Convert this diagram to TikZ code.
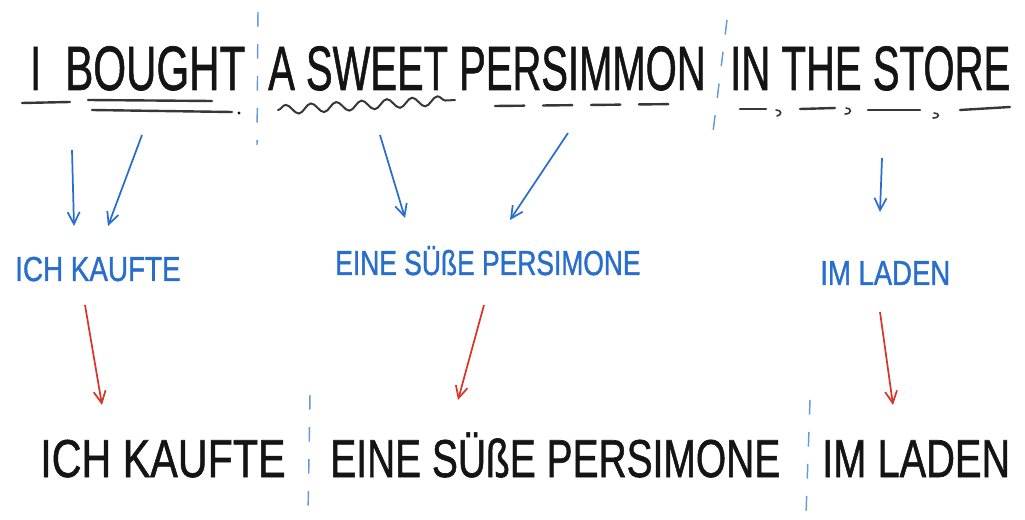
\documentclass[tikz,border=0pt]{standalone}
\usepackage{fontspec}
\setmainfont{Liberation Sans}
\newfontfamily\handfont{Liberation Sans}[FakeBold=1.2]
\usetikzlibrary{arrows.meta,decorations.pathmorphing}
\definecolor{inkblue}{RGB}{40,110,205}
\definecolor{inkred}{RGB}{215,55,40}
\definecolor{seplight}{RGB}{100,155,215}
\definecolor{ink}{RGB}{20,20,20}
\newcommand\fitw[2]{\resizebox{#1}{\height}{#2}}
\begin{document}
\begin{tikzpicture}[x=0.75pt,y=-0.75pt,
  top/.style={anchor=base west,inner sep=0pt,text=ink,font=\handfont\fontsize{47}{50}\selectfont},
  mid/.style={anchor=base west,inner sep=0pt,text=inkblue,font=\handfont\fontsize{26}{28}\selectfont},
  bot/.style={anchor=base west,inner sep=0pt,text=ink,font=\handfont\fontsize{40}{44}\selectfont},
  uline/.style={draw=ink!85,line width=1.8pt,line cap=round},
  sep/.style={draw=seplight,line width=1.1pt,dash pattern=on 11pt off 13pt},
  barrow/.style={draw=inkblue,line width=1.3pt,-{Straight Barb[length=9pt,width=9pt]}},
  rarrow/.style={draw=inkred,line width=1.3pt,-{Straight Barb[length=9pt,width=9pt]}}]
\useasboundingbox[fill=white] (0,0) rectangle (1025,520);
% top english
\node[top] (eI) at (30,90) {\fitw{8pt}{I}};
\node[top] (eB) at (65,90) {\fitw{135pt}{BOUGHT}};
\node[top] (eA) at (268,90) {\fitw{328pt}{A SWEET PERSIMMON}};
\node[top] (eS) at (730,90) {\fitw{210pt}{IN THE STORE}};
% underlines
\draw[uline] (22,103) -- (70,102);
\draw[uline] (88,100) -- (212,101);
\draw[uline] (92,110) -- (232,112);
\fill[ink] (239,113) circle (1.2pt);
\draw[uline,line width=1.5pt,decorate,decoration={snake,amplitude=3.5pt,segment length=19pt}] (278,110) -- (455,100);
\draw[uline,dash pattern=on 22pt off 14pt] (495,106) -- (680,104);
\draw[uline] (740,109) -- (766,109);
\draw[uline,line width=1.2pt] (776,110) .. controls (782,110) and (782,115) .. (777,116);
\draw[uline] (800,109) -- (835,108);
\draw[uline,line width=1.2pt] (846,108) .. controls (852,108) and (852,114) .. (845,114);
\draw[uline] (868,110) -- (920,110);
\draw[uline,line width=1.2pt] (934,113) .. controls (940,113) and (940,118) .. (933,118);
\draw[uline] (960,110) -- (1010,107);
% separators
\coordinate (s1a) at (258,12); \coordinate (s1b) at (257,145);
\coordinate (s2a) at (727,20); \coordinate (s2b) at (713,132);
\coordinate (s3a) at (310,395); \coordinate (s3b) at (308,515);
\coordinate (s4a) at (810,400); \coordinate (s4b) at (806,515);
\draw[sep] (s1a) -- (s1b);
\draw[sep] (s2a) -- (s2b);
\draw[sep] (s3a) -- (s3b);
\draw[sep] (s4a) -- (s4b);
% middle german (blue)
\node[mid] (mK) at (15,281) {\fitw{124pt}{ICH KAUFTE}};
\node[mid] (mE) at (335,275) {\fitw{229pt}{EINE SÜßE PERSIMONE}};
\node[mid] (mL) at (820,285) {\fitw{97.5pt}{IM LADEN}};
% bottom german
\node[bot] (bK) at (40,477) {\fitw{184pt}{ICH KAUFTE}};
\node[bot] (bE) at (330,477) {\fitw{337.5pt}{EINE SÜßE PERSIMONE}};
\node[bot] (bL) at (822,477) {\fitw{141pt}{IM LADEN}};
% blue arrows
\coordinate (a1s) at (72,150); \coordinate (a1e) at (74,226);
\coordinate (a2s) at (142,135); \coordinate (a2e) at (108,226);
\coordinate (a3s) at (380,135); \coordinate (a3e) at (405,218);
\coordinate (a4s) at (568,133); \coordinate (a4e) at (510,220);
\coordinate (a5s) at (882,158); \coordinate (a5e) at (880,212);
\draw[barrow] (a1s) -- (a1e);
\draw[barrow] (a2s) -- (a2e);
\draw[barrow] (a3s) -- (a3e);
\draw[barrow] (a4s) -- (a4e);
\draw[barrow] (a5s) -- (a5e);
% red arrows
\coordinate (r1s) at (85,305); \coordinate (r1e) at (102,405);
\coordinate (r2s) at (484,305); \coordinate (r2e) at (458,400);
\coordinate (r3s) at (880,312); \coordinate (r3e) at (893,405);
\draw[rarrow] (r1s) -- (r1e);
\draw[rarrow] (r2s) -- (r2e);
\draw[rarrow] (r3s) -- (r3e);
\end{tikzpicture}
\end{document}
